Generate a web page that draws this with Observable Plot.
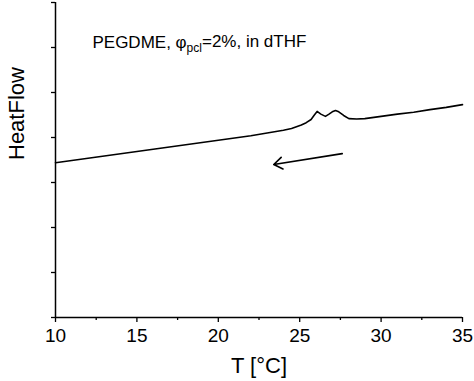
<!DOCTYPE html>
<html>
<head>
<meta charset="utf-8">
<script src="https://cdn.jsdelivr.net/npm/d3@7"></script>
<script src="https://cdn.jsdelivr.net/npm/@observablehq/plot@0.6"></script>
<style>
  html, body { margin: 0; padding: 0; background: #fff; }
  svg { font-family: "Liberation Sans", Arial, sans-serif; }
</style>
</head>
<body>
<div id="chart"></div>
<script>
// Temperature (°C) and heat flow (arbitrary units)
const temps = [10, 11, 12, 13, 14, 15, 16, 17, 18, 19, 20, 21, 22, 23, 24, 24.5, 24.8, 25.1, 25.4, 25.7, 25.9, 26.07, 26.3, 26.58, 26.8, 27.0, 27.2, 27.4, 27.7, 28.02, 28.5, 29, 30, 31, 32, 33, 34, 35];
const heat  = [3.44, 3.49, 3.54, 3.59, 3.64, 3.69, 3.74, 3.79, 3.84, 3.89, 3.94, 3.99, 4.04, 4.10, 4.16, 4.20, 4.24, 4.28, 4.33, 4.40, 4.50, 4.58, 4.52, 4.47, 4.52, 4.57, 4.60, 4.57, 4.49, 4.42, 4.41, 4.42, 4.47, 4.52, 4.56, 4.62, 4.67, 4.73];
const xTicks = [10, 15, 20, 25, 30, 35];
const xMinorTicks = [12.5, 17.5, 22.5, 27.5, 32.5];
const yTicks = [0, 1, 2, 3, 4, 5, 6, 7];
const arrowStart = {x: 27.61, y: 3.64};
const arrowEnd = {x: 23.41, y: 3.40};
const annotation = {x: 12.27, y: 6.11};

const data = temps.map((t, i) => ({t, h: heat[i]}));

const chart = Plot.plot({
  width: 474,
  height: 381,
  marginLeft: 55,
  marginRight: 12,
  marginTop: 2,
  marginBottom: 64,
  style: {fontFamily: "Liberation Sans, Arial, sans-serif", color: "#000", background: "#fff"},
  x: {domain: [10, 35]},
  y: {domain: [0, 7]},
  marks: [
    Plot.axisX(xTicks, {tickSize: 5, tickPadding: 6, fontSize: 19, label: null, strokeWidth: 1.3}),
    Plot.axisX(xMinorTicks, {tickSize: 3, tickFormat: () => "", label: null, strokeWidth: 1.3}),
    Plot.axisY(yTicks, {tickSize: 4, tickFormat: () => "", label: null, strokeWidth: 1.3}),
    Plot.ruleX([10], {strokeWidth: 1.5}),
    Plot.ruleY([0], {strokeWidth: 1.5}),
    Plot.line(data, {x: "t", y: "h", stroke: "#000", strokeWidth: 1.6}),
    Plot.arrow([0], {x1: () => arrowStart.x, y1: () => arrowStart.y, x2: () => arrowEnd.x, y2: () => arrowEnd.y, stroke: "#000", strokeWidth: 1.7, headLength: 9, headAngle: 70, bend: 0}),
    Plot.text([annotation], {x: "x", y: "y", text: () => "PEGDME", textAnchor: "start", fontSize: 17, fill: "#000", className: "anno"}),
    Plot.text(["T [°C]"], {frameAnchor: "bottom", dy: 55, fontSize: 22, fill: "#000"}),
    Plot.text(["HeatFlow"], {frameAnchor: "left", rotate: -90, dx: -39, fontSize: 22, fill: "#000"})
  ]
});

// Rich text for the annotation (subscript)
const t = d3.select(chart).select(".anno text");
t.text(null);
t.append("tspan").text("PEGDME, \u03c6");
t.append("tspan").attr("dy", "0.3em").attr("font-size", "12").text("pcl");
t.append("tspan").attr("dy", "-0.3em").text("=2%, in dTHF");

document.getElementById("chart").appendChild(chart);
</script>
</body>
</html>
